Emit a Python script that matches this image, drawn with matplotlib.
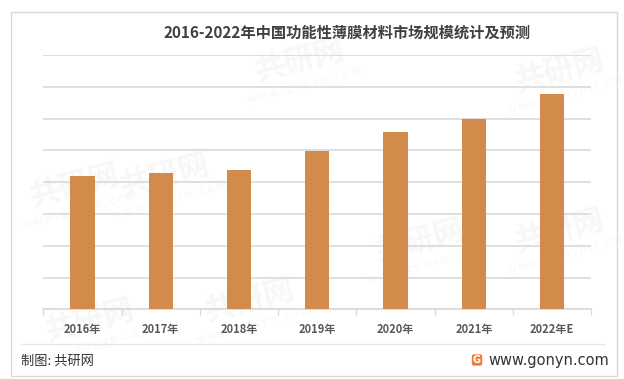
import matplotlib.pyplot as plt
from matplotlib.patches import Rectangle, FancyBboxPatch

plt.rcParams['font.family'] = ['Noto Sans CJK SC', 'DejaVu Sans']

# data (in gridline units)
years = ['2016年', '2017年', '2018年', '2019年', '2020年', '2021年', '2022年E']
market_size = [4.19, 4.29, 4.38, 4.98, 5.58, 5.98, 6.77]

title = '2016-2022年中国功能性薄膜材料市场规模统计及预测'
source = '制图: 共研网'
site = 'www.gonyn.com'

bar_color = '#D38B4C'
grid_color = '#D9D9D9'

fig = plt.figure(figsize=(6.24, 3.79), dpi=100)
W, H = 624, 379


def fx(px):
    return px / W


def fy(py):
    return 1 - py / H


# outer frame
fig.patches.append(Rectangle((fx(11), fy(375.7)), fx(616.7) - fx(11), fy(12.3) - fy(375.7),
                             transform=fig.transFigure, fill=False, edgecolor='#D9D9D9', lw=1))

# faint watermarks on a background axes
bg = fig.add_axes([0, 0, 1, 1], zorder=-1)
bg.set_axis_off()
bg.set_xlim(0, W)
bg.set_ylim(H, 0)
marks = [(75, 185), (165, 175), (300, 60), (420, 240), (560, 70), (560, 230), (250, 300), (90, 320)]
for mx, my in marks:
    bg.text(mx, my, '共研网', fontsize=22, fontweight='bold', color='#F7F7F7',
            rotation=15, ha='center', va='center')
    bg.text(mx + 5, my + 25, 'w w w . g o n y n . c o m', fontsize=8, color='#F7F7F7',
            rotation=15, ha='center', va='center')

ax = fig.add_axes([fx(43.3), fy(309.3), fx(591.3) - fx(43.3), fy(55) - fy(309.3)])
ax.patch.set_alpha(0)

x = range(len(years))
ax.bar(x, market_size, width=0.31, color=bar_color, zorder=3)

ax.set_xlim(-0.5, len(years) - 0.5)
ax.set_ylim(0, 8)
ax.set_yticks(range(0, 9))
ax.yaxis.grid(True, color=grid_color, lw=1.2)
ax.tick_params(axis='y', left=False, labelleft=False)

for s in ['left', 'right', 'top']:
    ax.spines[s].set_visible(False)
ax.spines['bottom'].set_color(grid_color)
ax.spines['bottom'].set_linewidth(1.2)

ax.set_xticks([i - 0.5 for i in range(len(years) + 1)], minor=False)
ax.set_xticklabels([])
ax.tick_params(axis='x', length=4, color=grid_color, width=1)
ax.set_xticks(list(x), minor=True)
ax.set_xticklabels(years, minor=True, fontsize=8, fontweight='bold', color='#595959')
ax.tick_params(axis='x', which='minor', length=0, pad=10)

fig.text(fx(347.5), fy(33), title, fontsize=11, fontweight='bold', color='#404040',
         ha='center', va='center')

# footer
fig.add_artist(plt.Line2D([fx(21), fx(604)], [fy(344.3), fy(344.3)], color='#E6E6E6', lw=1,
                          transform=fig.transFigure))
fig.text(fx(21), fy(361.5), source, fontsize=9.5, color='#333333', ha='left', va='center')
fig.text(fx(609), fy(360.5), site, fontsize=10.5, color='#333333', ha='right', va='center',
         family='DejaVu Sans')
fig.patches.append(FancyBboxPatch((fx(472.5), fy(365)), fx(9), fy(355) - fy(365),
                                  boxstyle='round,pad=0,rounding_size=0.003',
                                  transform=fig.transFigure, color='#F07C3A'))
fig.text(fx(477), fy(360), 'G', fontsize=7, fontweight='bold', color='white',
         ha='center', va='center', family='DejaVu Sans')

fig.savefig('out.png', dpi=100)
